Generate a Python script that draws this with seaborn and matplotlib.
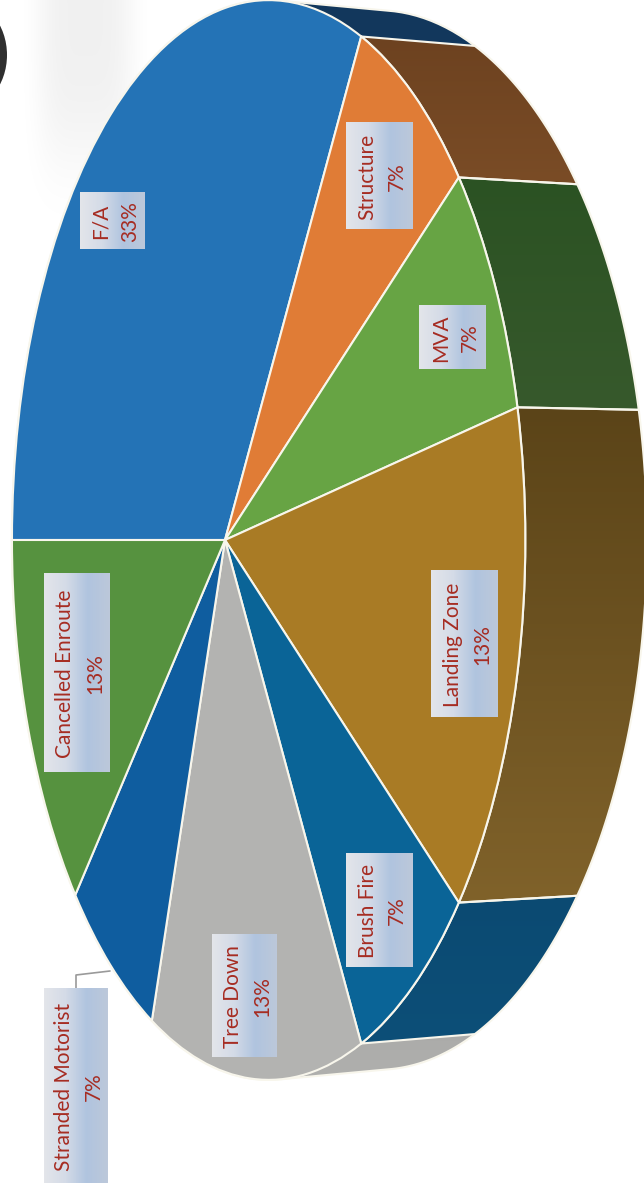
import numpy as np
import matplotlib
matplotlib.use("Agg")
import matplotlib.pyplot as plt
import seaborn as sns
from matplotlib.patches import Ellipse, Polygon
from matplotlib.transforms import Transform

# 15 incidents, the labels show them as rounded percentages
categories = ["F/A", "Structure", "MVA", "Landing Zone", "Brush Fire",
              "Tree Down", "Stranded Motorist", "Cancelled Enroute"]
incidents = [5, 1, 1, 2, 1, 2, 1, 2]
percent_labels = ["33%", "7%", "7%", "13%", "7%", "13%", "7%", "13%"]

top_colors = ["#2473b6", "#e07c36", "#67a444", "#a97b25",
              "#0a6497", "#b3b3b1", "#0f5d9f", "#56923f"]
rim_start = ["#12375c", "#6d4220", "#2b5223", "#5b4418",
             "#0b4a72", "#a9a9a7", "#0f4d80", "#3c6a2c"]
rim_end = ["#163f66", "#7a4c26", "#37592c", "#80622a",
           "#0d4f78", "#b0b0ae", "#0f4d80", "#3c6a2c"]

# label box edges in page pixels: left, right, top, bottom
box_left = [80, 346, 419, 431, 346, 212, 44, 44]
box_right = [145, 413, 486, 498, 413, 277, 108, 110]
box_top = [192, 122, 305, 570, 853, 934, 988, 573]
box_bottom = [249, 229, 369, 717, 967, 1057, 1183, 772]

LINE_COLOR = "#f8f6ec"
TEXT_COLOR = "#a62c22"
PAGE_W, PAGE_H = 644, 1187
# these two rims wrap round the top and bottom of the pie
WRAPPED_RIMS = ("F/A", "Tree Down")


class PieToPage(Transform):
    """Perspective from the unit pie onto the tilted ellipse on the page."""
    input_dims = 2
    output_dims = 2
    is_separable = False

    def __init__(self, spread, center_x, tilt, height, center_y=540):
        super().__init__()
        self.spread = spread
        self.center_x = center_x
        self.tilt = tilt
        self.height = height
        self.center_y = center_y

    def transform_non_affine(self, values):
        u, v = np.asarray(values).T
        w = 1 + self.tilt * u
        return np.column_stack(((self.spread * u + self.center_x) / w,
                                self.center_y - self.height * v / w))


top_face = PieToPage(211, 225, -0.17, 532)
rim_edge = PieToPage(205, 332, -0.17, 522)


def unit_arc(theta1, theta2, n=80):
    angles = np.radians(np.linspace(theta1, theta2, n))
    return np.column_stack((np.cos(angles), np.sin(angles)))


def convex_hull(points):
    # monotone chain, enough to get the tangent between the two ellipses
    pts = sorted(map(tuple, points))

    def half(seq):
        chain = []
        for p in seq:
            while len(chain) > 1 and (
                (chain[-1][0] - chain[-2][0]) * (p[1] - chain[-2][1])
                - (chain[-1][1] - chain[-2][1]) * (p[0] - chain[-2][0])
            ) <= 0:
                chain.pop()
            chain.append(p)
        return chain[:-1]

    return np.array(half(pts) + half(pts[::-1]))


def draw_background(ax):
    # soft shadow and the dark punch hole from the scanned page
    yy, xx = np.mgrid[0:240, 0:220]
    alpha = 0.06 * np.exp(-((xx - 85) / 48.0) ** 4 - ((yy + 10) / 175.0) ** 4)
    shade = np.zeros((240, 220, 4))
    shade[..., 3] = alpha
    ax.imshow(shade, extent=(0, 220, 240, 0), aspect="auto", zorder=1)
    ax.add_patch(Ellipse((-40, 55), 94, 112, color="#2f2f2f", lw=0, zorder=2))


def draw_rims(ax, wedges):
    for i, wedge in enumerate(wedges):
        arc = unit_arc(wedge.theta1, wedge.theta2)
        inner, outer = top_face.transform(arc), rim_edge.transform(arc)
        wrapped = categories[i] in WRAPPED_RIMS
        if wrapped:
            outline = convex_hull(np.vstack((inner, outer)))
        else:
            outline = np.vstack((inner, outer[::-1]))
        layer = 3.0 if wrapped else 3.5
        shape = Polygon(outline, closed=True, facecolor="none",
                        edgecolor=LINE_COLOR, lw=1.5, zorder=layer + 0.1)
        ax.add_patch(shape)
        cmap = sns.blend_palette([rim_start[i], rim_end[i]], 64, as_cmap=True)
        image = ax.imshow(np.linspace(0, 1, 128).reshape(-1, 1), cmap=cmap,
                          extent=(0, PAGE_W, outline[:, 1].max(), outline[:, 1].min()),
                          aspect="auto", zorder=layer)
        image.set_clip_path(shape)


def draw_label(ax, i):
    left, right = box_left[i], box_right[i]
    top, bottom = box_top[i], box_bottom[i]
    cmap = sns.blend_palette(["#e3e5ea", "#d4dbe7", "#b0c4df", "#bcc8da"], 64, as_cmap=True)
    ax.imshow(np.linspace(0, 1, 64).reshape(1, -1), cmap=cmap,
              extent=(left, right, bottom, top), aspect="auto", zorder=6)
    ax.text((left + right) / 2 + 3, (top + bottom) / 2 + 1,
            f"{categories[i]}\n{percent_labels[i]}",
            rotation=90, ha="center", va="center", multialignment="center",
            color=TEXT_COLOR, fontsize=15, family="Lato", linespacing=1.6, zorder=7)


def main():
    sns.set_theme(style="white")
    fig, ax = plt.subplots(figsize=(PAGE_W / 100, PAGE_H / 100), dpi=100)
    fig.subplots_adjust(left=0, right=1, top=1, bottom=0)

    wedges, _ = ax.pie(incidents, startangle=180, counterclock=False,
                       colors=sns.color_palette(top_colors),
                       wedgeprops=dict(edgecolor=LINE_COLOR, linewidth=1.5, zorder=5))
    for wedge in wedges:
        wedge.set_transform(top_face + ax.transData)

    draw_background(ax)
    draw_rims(ax, wedges)
    for i in range(len(categories)):
        draw_label(ax, i)

    # leader line for the one label that sits outside the pie
    stranded = categories.index("Stranded Motorist")
    ax.plot([(box_left[stranded] + box_right[stranded]) / 2] * 2 + [110],
            [box_top[stranded], 975, 971], color="#9a9a9a", lw=1.2, zorder=4)

    ax.set_aspect("auto")
    ax.set_xlim(0, PAGE_W)
    ax.set_ylim(PAGE_H, 0)
    ax.axis("off")
    fig.savefig("out.png", dpi=100, facecolor="white")
    plt.close(fig)


if __name__ == "__main__":
    main()
